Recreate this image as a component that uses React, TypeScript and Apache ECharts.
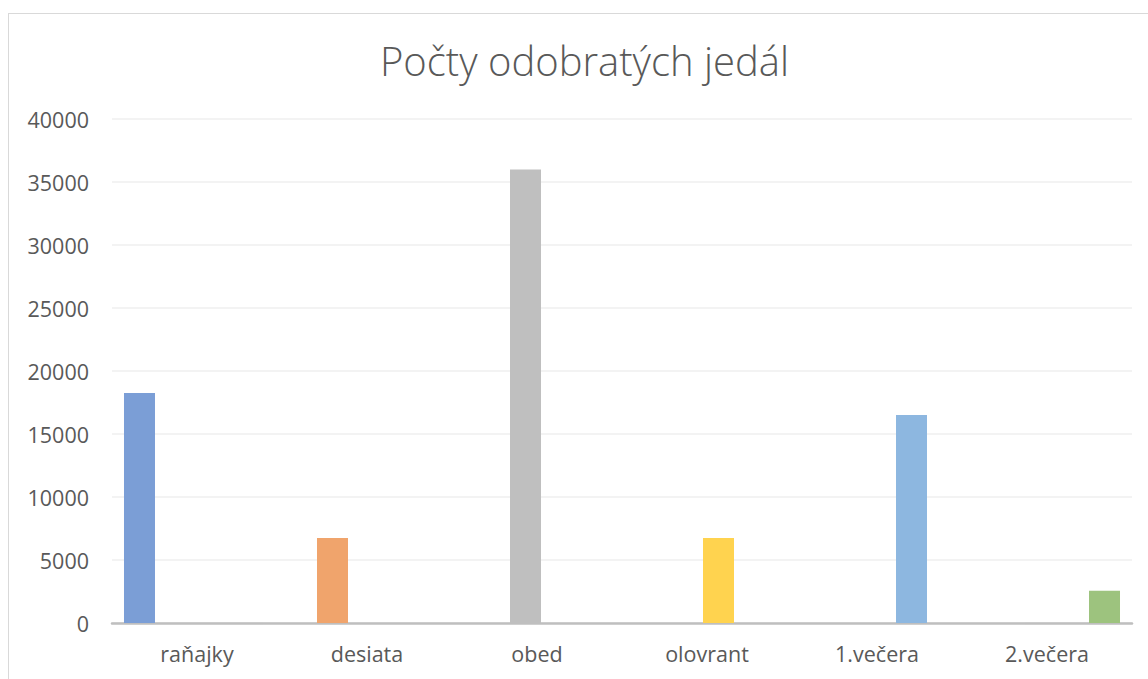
import React, { useEffect, useRef } from "react";
import * as echarts from "echarts";

const categories = ["raňajky", "desiata", "obed", "olovrant", "1.večera", "2.večera"];
const values = [18250, 6750, 36000, 6750, 16500, 2550];
const colors = ["#7B9ED6", "#F0A46C", "#BFBFBF", "#FFD34F", "#8DB7E0", "#9DC37E"];
const yTicks = { min: 0, max: 40000, interval: 5000 };
const titleText = "Počty odobratých jedál";

export default function App() {
  const ref = useRef<HTMLDivElement>(null);
  useEffect(() => {
    if (!ref.current) return;
    const chart = echarts.init(ref.current, undefined, { renderer: "svg" });
    const series = categories.map((c, i) => ({
      type: "bar",
      name: c,
      barWidth: 31,
      barGap: "-25.8%",
      itemStyle: { color: colors[i] },
      data: categories.map((_, j) => (j === i ? values[i] : null)),
    }));
    chart.setOption({
      animation: false,
      backgroundColor: "#ffffff",
      title: {
        text: titleText,
        left: "center",
        top: 21,
        textStyle: {
          fontFamily: "Open Sans",
          fontSize: 40,
          fontWeight: 300,
          color: "#595959",
        },
      },
      grid: { left: 103, right: 28, top: 105, bottom: 56 },
      xAxis: {
        type: "category",
        data: categories,
        axisLine: { lineStyle: { color: "#BFBFBF", width: 2.5 } },
        axisTick: { show: false },
        axisLabel: {
          margin: 19,
          fontFamily: "Open Sans",
          fontSize: 21.5,
          color: "#595959",
        },
      },
      yAxis: {
        type: "value",
        min: yTicks.min,
        max: yTicks.max,
        interval: yTicks.interval,
        axisLine: { show: false },
        axisTick: { show: false },
        splitLine: { lineStyle: { color: "#EFEFEF", width: 1.5 } },
        axisLabel: {
          margin: 23,
          fontFamily: "Open Sans",
          fontSize: 21.5,
          color: "#595959",
          formatter: (v: number) => String(v),
        },
      },
      series,
    });
    return () => chart.dispose();
  }, []);
  return (
    <div
      style={{
        position: "fixed",
        left: 8,
        top: 13,
        border: "1px solid #D9D9D9",
        background: "#fff",
      }}
    >
      <div ref={ref} style={{ width: 1151, height: 665 }} />
    </div>
  );
}
